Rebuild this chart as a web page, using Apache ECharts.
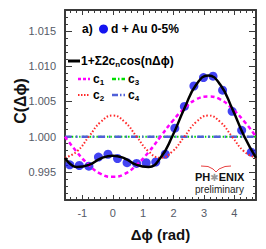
<!DOCTYPE html>
<html>
<head>
<meta charset="utf-8">
<script src="https://cdn.jsdelivr.net/npm/echarts@6/dist/echarts.min.js"></script>
<style>
html,body{margin:0;padding:0;background:#fff;}
#chart{width:266px;height:249px;}
</style>
</head>
<body>
<div id="chart"></div>
<script>
// ---- data ----
const phiBins = [-1.414, -1.100, -0.785, -0.471, -0.157, 0.157, 0.471, 0.785, 1.100, 1.414,
                 1.728, 2.042, 2.356, 2.670, 2.985, 3.299, 3.613, 3.927, 4.241, 4.555];
const corrValues = [0.9960, 0.9959, 0.9958, 0.9971, 0.9975, 0.9969, 0.9963, 0.9962, 0.9963, 0.9964,
                    0.9975, 1.0012, 1.0043, 1.0072, 1.0084, 1.0086, 1.0066, 1.0036, 1.0009, 0.9978];
const curveX = [-1.571, -1.178, -0.785, -0.393, 0, 0.393, 0.785, 1.178, 1.571,
                1.963, 2.356, 2.749, 3.142, 3.534, 3.927, 4.320, 4.712];
const fitSum = [0.9970, 0.9957, 0.9960, 0.9969, 0.9973, 0.9969, 0.9960, 0.9957, 0.9970,
                1.0001, 1.0040, 1.0074, 1.0087, 1.0074, 1.0040, 1.0001, 0.9970];
const c1Curve = [1.0000, 0.9978, 0.9960, 0.9947, 0.9943, 0.9947, 0.9960, 0.9978, 1.0000,
                 1.0022, 1.0040, 1.0053, 1.0057, 1.0053, 1.0040, 1.0022, 1.0000];
const c2Curve = [0.9970, 0.9979, 1.0000, 1.0021, 1.0030, 1.0021, 1.0000, 0.9979, 0.9970,
                 0.9979, 1.0000, 1.0021, 1.0030, 1.0021, 1.0000, 0.9979, 0.9970];
const c3Curve = [1.0000, 1.0000, 1.0000, 1.0000, 1.0000, 1.0000, 1.0000, 1.0000, 1.0000,
                 1.0000, 1.0000, 1.0000, 1.0000, 1.0000, 1.0000, 1.0000, 1.0000];
const c4Curve = [1.0000, 1.0000, 1.0000, 1.0000, 1.0000, 1.0000, 1.0000, 1.0000, 1.0000,
                 1.0000, 1.0000, 1.0000, 1.0000, 1.0000, 1.0000, 1.0000, 1.0000];
const xTickLabels = [-1, 0, 1, 2, 3, 4];
const yTickLabels = [0.995, 1.000, 1.005, 1.010, 1.015];

// ---- helpers ----
const X_MIN = -Math.PI / 2, X_MAX = 1.5 * Math.PI;
const Y_MIN = 0.991, Y_MAX = 1.018;
const xMinor = [];
for (let i = -7; i <= 23; i++) { if (i % 5 !== 0) xMinor.push(+(i * 0.2).toFixed(1)); }
const yMinor = [];
for (let i = 991; i <= 1018; i++) { if (i % 5 !== 0) yMinor.push(i / 1000); }
const pair = (xs, ys) => xs.map((x, i) => [x, ys[i]]);

const AX = '#3a3a3a';
const LBL = '#555a66';
function xAx(pos, custom, len, showLine, showLabel) {
  return {
    type: 'value', position: pos, min: X_MIN, max: X_MAX,
    axisLine: { show: showLine, onZero: false, lineStyle: { color: AX, width: 2 } },
    axisTick: { show: true, inside: true, length: len, customValues: custom, lineStyle: { color: AX, width: 1 } },
    axisLabel: { show: showLabel, customValues: custom, color: LBL, fontSize: 11, fontFamily: 'Liberation Sans, Arial', margin: 7,
                 formatter: v => String(Math.round(v)) },
    splitLine: { show: false }
  };
}
function yAx(pos, custom, len, showLine, showLabel) {
  return {
    type: 'value', position: pos, min: Y_MIN, max: Y_MAX,
    axisLine: { show: showLine, onZero: false, lineStyle: { color: AX, width: 2 } },
    axisTick: { show: true, inside: true, length: len, customValues: custom, lineStyle: { color: AX, width: 1 } },
    axisLabel: { show: showLabel, customValues: custom, color: LBL, fontSize: 11, fontFamily: 'Liberation Sans, Arial', margin: 9,
                 formatter: v => v.toFixed(3) },
    splitLine: { show: false }
  };
}

const xAxes = [xAx('bottom', xTickLabels, 5, true, true), xAx('bottom', xMinor, 3, false, false),
               xAx('top', xTickLabels, 5, true, false), xAx('top', xMinor, 3, false, false)];
xAxes[0].name = 'Δϕ (rad)';
xAxes[0].nameLocation = 'middle';
xAxes[0].nameGap = 27;
xAxes[0].nameTextStyle = { fontSize: 15, fontWeight: 'bold', color: '#111', fontFamily: 'Liberation Sans, Arial' };
const yAxes = [yAx('left', yTickLabels, 7, true, true), yAx('left', yMinor, 3, false, false),
               yAx('right', yTickLabels, 7, true, false), yAx('right', yMinor, 3, false, false)];

const TXT = { fontFamily: 'Liberation Sans, Arial', fontWeight: 'bold', fontSize: 12, fill: '#000' };
function txt(x, y, text, extra) {
  return { type: 'text', x: x, y: y, style: Object.assign({}, TXT, { text: text, verticalAlign: 'middle' }, extra || {}) };
}
const subRich = { s: { fontSize: 8, fontWeight: 'bold', fontFamily: 'Liberation Sans, Arial', padding: [7, 0, 0, 0] } };
function seg(x1, x2, y, color, width, dash) {
  return { type: 'line', shape: { x1: x1, y1: y, x2: x2, y2: y }, style: { stroke: color, lineWidth: width, lineDash: dash } };
}

const chart = echarts.init(document.getElementById('chart'), null, { renderer: 'svg', width: 266, height: 249 });
chart.setOption({
  animation: false,
  backgroundColor: '#fff',
  grid: { left: 65, right: 10, top: 10, bottom: 49 },
  xAxis: xAxes,
  yAxis: yAxes,
  graphic: [
    { type: 'text', x: 20, y: 101, rotation: Math.PI / 2,
      style: { text: 'C(Δϕ)', fontFamily: 'Liberation Sans, Arial', fontSize: 16, fontWeight: 'bold', fill: '#111',
               align: 'center', verticalAlign: 'middle' } },
    txt(82, 29, 'a)'),
    { type: 'circle', shape: { cx: 103.5, cy: 29, r: 4.5 }, style: { fill: '#1414f0' } },
    txt(111, 29, 'd + Au 0-5%'),
    seg(68, 80, 61, '#000', 3, null),
    txt(81, 61, '1+Σ2c{s|n}cos(nΔϕ)', { rich: subRich }),
    seg(78, 90, 79, '#ff00ff', 2.5, [3, 2]),
    txt(93, 79, 'c{s|1}', { rich: subRich }),
    seg(112, 125, 79, '#00dd00', 2.5, [4, 2, 1.5, 2]),
    txt(128, 79, 'c{s|3}', { rich: subRich }),
    seg(78, 90, 95, '#ff2a2a', 2, [1.5, 1.5]),
    txt(93, 95, 'c{s|2}', { rich: subRich }),
    seg(112, 125, 95, '#5060d8', 2.5, [6, 2, 1.5, 2]),
    txt(128, 95, 'c{s|4}', { rich: subRich }),
    { type: 'polyline', shape: { points: [[201, 166], [208, 166.5], [213, 169], [216, 172], [219, 169], [225, 166.5], [231, 166]] },
      style: { stroke: '#e84040', lineWidth: 1, fill: null } },
    { type: 'text', x: 195, y: 177,
      style: { text: 'PH{g|✱}ENIX', fontFamily: 'Liberation Sans, Arial', fontWeight: 'bold', fontSize: 11, fill: '#111',
               verticalAlign: 'middle', lineHeight: 11,
               rich: { g: { fill: '#9a9a9a', fontSize: 10, lineHeight: 11, fontFamily: 'DejaVu Sans' } } } },
    { type: 'text', x: 195, y: 189,
      style: { text: 'preliminary', fontFamily: 'Liberation Sans, Arial', fontSize: 10, fill: '#222', verticalAlign: 'middle' } }
  ],
  series: [
    { type: 'scatter', name: 'd + Au 0-5%', data: pair(phiBins, corrValues), symbol: 'circle', symbolSize: 9,
      itemStyle: { color: '#1414f0' }, z: 2 },
    { type: 'line', name: 'c3', data: pair(curveX, c3Curve), smooth: true, showSymbol: false,
      lineStyle: { color: '#00dd00', width: 2, type: [1.5, 2] }, z: 3 },
    { type: 'line', name: 'c4', data: pair(curveX, c4Curve), smooth: true, showSymbol: false,
      lineStyle: { color: '#5060d8', width: 2.5, type: [7, 4, 1.5, 4] }, z: 3 },
    { type: 'line', name: 'c2', data: pair(curveX, c2Curve), smooth: true, showSymbol: false,
      lineStyle: { color: '#ff2a2a', width: 2, type: [1.5, 2] }, z: 3 },
    { type: 'line', name: 'c1', data: pair(curveX, c1Curve), smooth: true, showSymbol: false,
      lineStyle: { color: '#ff00ff', width: 2.5, type: [4, 3] }, z: 3 },
    { type: 'line', name: 'fit', data: pair(curveX, fitSum), smooth: true, showSymbol: false,
      lineStyle: { color: '#000', width: 2.5 }, z: 4 }
  ]
});
</script>
</body>
</html>
